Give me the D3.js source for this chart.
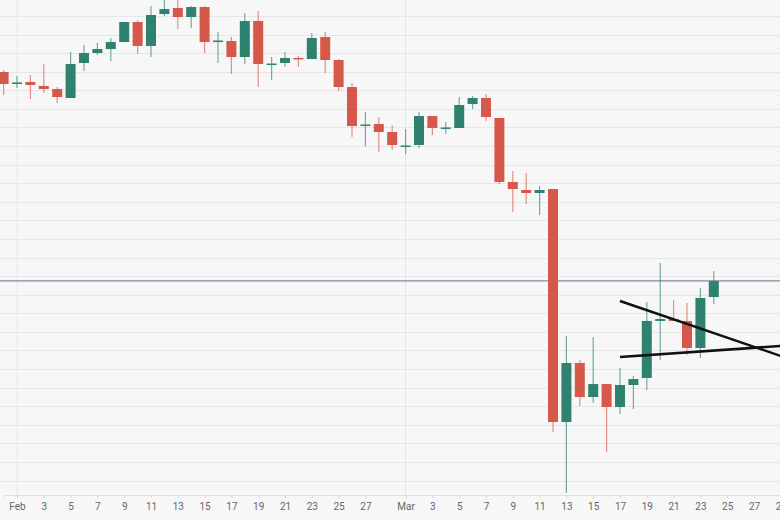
<!DOCTYPE html>
<html><head><meta charset="utf-8">
<script src="https://cdn.jsdelivr.net/npm/d3@7"></script>
<style>body{margin:0;background:#f7f7f7}svg{display:block}</style>
</head><body>
<script>
// daily candles, Jan 31 .. Mar 24 2020
var startDate = "2020-01-31";
var open  = [9435,9281,9301,9248,9207,9087,9556,9690,9743,9837,10105,9784,10212,10293,10172,10306,9844,9851,9636,10119,9536,9556,9623,9609,9904,9596,9234,8718,8738,8631,8437,8457,8846,8678,8685,9006,9087,8819,7961,7854,7814,7867,4745,5536,5080,5254,4946,5241,5335,6099,6125,6099,5737,6420];
var close = [9274,9295,9261,9207,9100,9542,9690,9743,9837,10105,9784,10199,10279,10172,10306,9837,9857,9636,10119,9542,9549,9623,9609,9891,9596,9234,8712,8732,8631,8457,8450,8846,8685,8692,8993,9087,8832,7961,7867,7814,7854,4745,5536,5080,5254,4946,5241,5321,6099,6125,6099,5737,6407,6635];
var high  = [9462,9382,9395,9542,9234,9703,9797,9824,9891,9891,10132,10320,10400,10400,10320,10320,9971,9904,10226,10253,9636,9703,9650,9958,9971,9609,9288,8899,8832,8725,8671,8899,8846,8765,9100,9114,9140,8819,8109,8082,7908,7867,5898,5576,5884,5000,5469,5362,6353,6876,6380,6340,6541,6769];
var low   = [9127,9221,9073,9154,9020,9087,9449,9663,9583,9837,9676,9636,10186,10011,10025,9690,9556,9408,9542,9234,9328,9502,9502,9609,9422,9181,8564,8444,8363,8390,8336,8417,8591,8604,8939,8939,8779,7934,7559,7666,7519,4611,3794,4960,5000,4343,4852,4919,5174,5576,6099,5643,5603,6326];
var xTicks = ["Feb","3","5","7","9","11","13","15","17","19","21","23","25","27","Mar","3","5","7","9","11","13","15","17","19","21","23","25","27","29"];
var levelPrice = 6635;
var trendFrom = ["2020-03-17","2020-03-29"];
var trendA = [6367,5630];
var trendB = [5616,5764];
</script>
<script>
var W = 780, H = 520, axisY = 495;
var parse = d3.timeParse("%Y-%m-%d");
var t0 = parse(startDate);
var candles = close.map(function(c, i) {
  return {date: d3.timeDay.offset(t0, i), o: open[i], c: c,
          h: Math.max(high[i], open[i], c), l: Math.min(low[i], open[i], c)};
});

var x = d3.scaleTime()
  .domain([parse("2020-01-31"), parse("2020-03-29")])
  .range([3.6, 780.8]);
var y = d3.scaleLinear().domain([3767, 10400]).range([axisY, 0]);

var svg = d3.select("body").append("svg").attr("width", W).attr("height", H);
svg.append("rect").attr("width", W).attr("height", H).attr("fill", "#f7f7f7");

// horizontal grid
svg.append("g").selectAll("line").data(d3.range(10186, 3800, -249)).enter().append("line")
  .attr("x1", 0).attr("x2", W).attr("y1", function(d){return Math.round(y(d))+0.5;})
  .attr("y2", function(d){return Math.round(y(d))+0.5;})
  .attr("stroke", "#e6e6e6");

// vertical month lines
svg.append("g").selectAll("line").data([parse("2020-02-01"), parse("2020-03-01")]).enter().append("line")
  .attr("x1", function(d){return x(d);}).attr("x2", function(d){return x(d);})
  .attr("y1", 0).attr("y2", axisY).attr("stroke", "#e6e6e6");

// axis
var tickDates = xTicks.map(function(t, i) {
  return i < 14 ? d3.timeDay.offset(parse("2020-02-01"), i*2) : d3.timeDay.offset(parse("2020-03-01"), (i-14)*2);
});
var ax = d3.axisBottom(x).tickValues(tickDates).tickSize(3)
  .tickFormat(function(d, i){ return xTicks[i]; });
var g = svg.append("g").attr("transform", "translate(0," + axisY + ")").call(ax);
g.select(".domain").attr("stroke", "#dde3ea");
g.selectAll(".tick line").attr("stroke", "#cfd6de");
g.selectAll("text").attr("fill", "#666").attr("font-family", "Roboto, sans-serif").attr("font-size", 10).attr("dy", "0.9em");

// level line
svg.append("line").attr("x1", 0).attr("x2", W).attr("y1", y(levelPrice)).attr("y2", y(levelPrice))
  .attr("stroke", "#7d8ca0").attr("stroke-width", 1.2);

var col = function(d){ return d.c >= d.o ? "#2f8270" : "#d6584a"; };
var cg = svg.append("g").selectAll("g").data(candles).enter().append("g");
cg.append("line")
  .attr("x1", function(d){return x(d.date);}).attr("x2", function(d){return x(d.date);})
  .attr("y1", function(d){return y(d.h);}).attr("y2", function(d){return y(d.l);})
  .attr("stroke", col).attr("stroke-opacity", 0.65).attr("stroke-width", 1.2);
cg.append("rect")
  .attr("x", function(d){return x(d.date) - 5;}).attr("width", 10)
  .attr("y", function(d){return y(Math.max(d.o, d.c));})
  .attr("height", function(d){return Math.max(1.5, Math.abs(y(d.o) - y(d.c)));})
  .attr("fill", col);

// trend lines
[trendA, trendB].forEach(function(t) {
  svg.append("line")
    .attr("x1", x(parse(trendFrom[0]))).attr("x2", x(parse(trendFrom[1])))
    .attr("y1", y(t[0])).attr("y2", y(t[1]))
    .attr("stroke", "#111").attr("stroke-width", 2.5);
});
</script>
</body></html>
